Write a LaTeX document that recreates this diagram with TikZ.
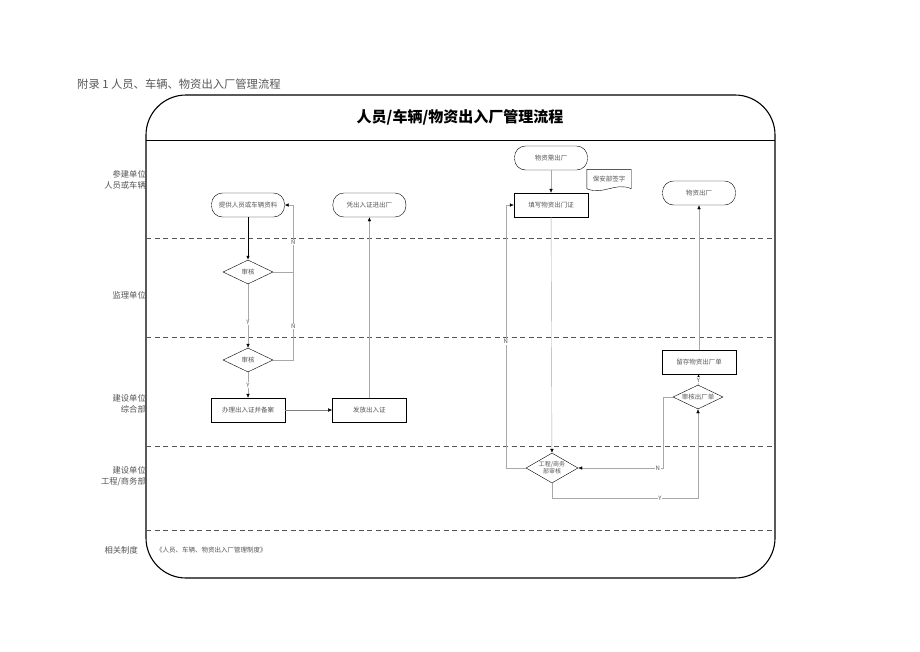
\documentclass[tikz,border=0pt]{standalone}
\usepackage{fontspec}
\setmainfont{Noto Sans CJK SC}
\usetikzlibrary{shapes.geometric,positioning,arrows.meta}

\definecolor{lanegray}{RGB}{85,82,88}
\definecolor{linkgray}{RGB}{170,165,175}
\definecolor{textgray}{RGB}{85,85,85}

\tikzset{
	terminal/.style={draw, rounded corners=11pt, minimum width=73pt, minimum height=24pt, inner sep=1pt, font=\fontsize{6.5}{7}\selectfont, text=textgray},
	process/.style={draw, minimum width=74pt, minimum height=24pt, inner sep=1pt, font=\fontsize{6.5}{7}\selectfont, text=textgray},
	decision/.style={draw, diamond, aspect=2, inner sep=0pt, minimum width=50pt, minimum height=24pt, font=\fontsize{6.5}{7}\selectfont, text=textgray},
	lane/.style={anchor=east, align=right, inner sep=0pt, font=\fontsize{8.3}{11}\selectfont, text=textgray},
	link/.style={draw=linkgray, -{Latex[black,length=4pt,width=3.5pt]}},
	linkline/.style={draw=linkgray},
	tag/.style={fill=white, inner sep=0.6pt, font=\fontsize{6}{6}\selectfont, text=textgray},
	swim/.style={draw=lanegray, line width=0.7pt, dash pattern=on 5pt off 3.5pt}
}

\begin{document}
\begin{tikzpicture}[x=1pt, y=-1pt]
	\useasboundingbox (0,0) rectangle (920,651);
	% Frame and lanes
	\node[anchor=west, inner sep=0pt, text=textgray, font=\fontsize{11.3}{11}\selectfont] (head) at (77,84) {附录 1 人员、车辆、物资出入厂管理流程};
	\draw[line width=1.1pt, rounded corners=40pt] (146,95) rectangle (775,578);
	\node[font=\fontsize{15}{15}\selectfont\bfseries] (title) at (460,117) {人员/车辆/物资出入厂管理流程};
	\draw[line width=0.9pt] (146,140) -- (775,140);
	\foreach \y in {238,337,446,530}
		\draw[swim] (146,\y) -- (775,\y);
	\node[lane] (lane1) at (146,180) {参建单位\\人员或车辆};
	\node[lane] (lane2) at (146,295) {监理单位};
	\node[lane] (lane3) at (146,404) {建设单位\\综合部};
	\node[lane] (lane4) at (146,476) {建设单位\\工程/商务部};
	\node[lane] (lane5) at (138,550) {相关制度};
	\node[anchor=west, inner sep=0pt, text=textgray, font=\fontsize{6.5}{7}\selectfont] (rule) at (156,550) {《人员、车辆、物资出入厂管理制度》};
	% Define nodes
	\node[terminal] (supply) at (248,205) {提供人员或车辆资料};
	\node[decision] (check1) at (248,272) {审核};
	\node[decision] (check2) at (248,360) {审核};
	\node[process] (handle) at (248,410) {办理出入证并备案};
	\node[process, right=47pt of handle] (issue) {发放出入证};
	\node[terminal] (pass) at (issue |- supply) {凭出入证进出厂};
	\node[terminal] (need) at (551,158) {物资需出厂};
	\node[process] (fill) at (551,205) {填写物资出门证};
	\node[inner sep=1pt, minimum width=44pt, minimum height=19pt, text=textgray, font=\fontsize{6.5}{7}\selectfont] (sign) at (609,179) {保安部签字};
	\draw (sign.south west) -- (sign.north west) -- (sign.north east) -- (sign.south east)
		.. controls +(-16,-7) and +(16,7) .. (sign.south west);
	\node[decision, aspect=1.7, minimum width=52pt, minimum height=30pt, align=center, font=\fontsize{6}{7}\selectfont] (review) at (552,468) {工程/商务\\部审核};
	\node[decision] (check3) at (698,397) {审核出厂单};
	\node[process] (keep) at (699,362) {留存物资出厂单};
	\node[terminal] (out) at (699,193) {物资出厂};
	% Connectors
	\draw[link, draw=black, thick] (supply) -- (check1);
	\draw[link] (check1) -- node[tag, pos=0.6] {Y} (check2);
	\draw[link] (check1.east) -- ++(20,0) coordinate (back) |- node[tag, pos=0.22] {N} (supply.east);
	\draw[linkline] (check2.east) -| node[tag, pos=0.69] {N} (back);
	\draw[link] (check2) -- node[tag] {Y} (handle);
	\draw[link, draw=gray] (handle) -- (issue);
	\draw[link] (issue) -- (pass);
	\draw[link] (need) -- (fill);
	\draw[link] (fill) -- (review);
	\draw[link] (review.west) -- ++(-20,0) |- node[tag, pos=0.24] {N} (fill.west);
	\draw[link] (review.south) -- ++(0,15) -| node[tag, pos=0.37] {Y} (check3.south);
	\draw[link] (check3.west) -- ++(-10,0) |- node[tag, pos=0.53] {N} (review.east);
	\draw[link] (check3) -- node[tag, pos=0.45] {Y} (keep);
	\draw[link] (keep) -- (out);
\end{tikzpicture}
\end{document}
